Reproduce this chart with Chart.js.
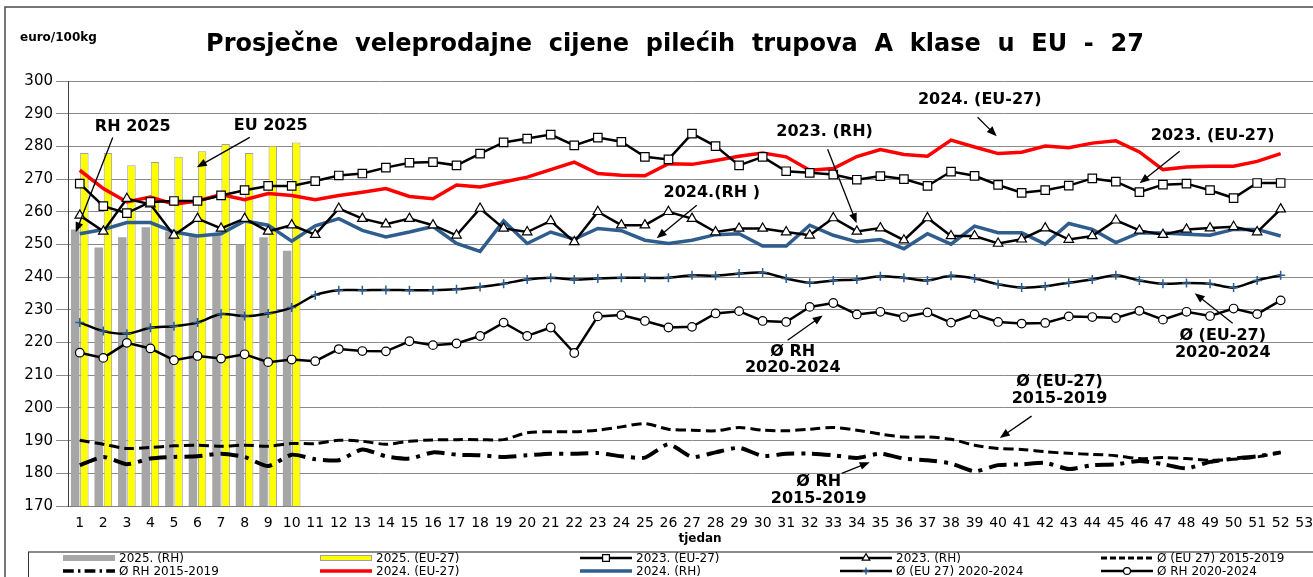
<!DOCTYPE html>
<html><head><meta charset="utf-8">
<script src="https://cdn.jsdelivr.net/npm/chart.js@4.4.1/dist/chart.umd.min.js"></script>
<style>
html,body{margin:0;padding:0;overflow:hidden;background:#fff}
#wrap{position:absolute;left:0;top:0;width:1330px;height:577px}
</style>
</head><body><div id="wrap"><canvas id="c"></canvas></div>
<script>
// ---- data ----
const weeks = ['1','2','3','4','5','6','7','8','9','10','11','12','13','14','15','16','17','18','19','20','21','22','23','24','25','26','27','28','29','30','31','32','33','34','35','36','37','38','39','40','41','42','43','44','45','46','47','48','49','50','51','52','53'];
const yTicks = [170,180,190,200,210,220,230,240,250,260,270,280,290,300];

const rh2025 = [254.6,249.1,252.2,255.3,254.0,253.0,253.5,250.0,252.2,248.1];
const eu2025 = [278.0,278.0,274.2,275.2,276.8,278.5,280.7,278.0,280.2,281.2];

const eu2023 = [268.6,261.7,259.6,263.0,263.3,263.3,265.0,266.6,267.9,267.9,269.4,271.1,271.7,273.5,275.0,275.2,274.2,277.8,281.2,282.4,283.6,280.3,282.7,281.4,276.8,276.0,283.9,280.1,274.2,276.8,272.4,271.9,271.4,269.8,270.9,270.0,267.9,272.3,271.0,268.2,265.8,266.6,268.0,270.2,269.2,266.0,268.3,268.6,266.6,264.2,268.8,268.8];
const rh2023 = [258.9,254.0,264.0,262.3,252.8,257.9,254.9,257.9,254.0,255.9,253.0,261.0,257.9,256.2,257.9,255.9,252.8,261.0,254.9,253.8,257.2,250.8,260.0,255.9,255.9,260.0,257.9,253.8,254.9,254.9,253.8,252.8,258.1,254.0,255.0,251.3,258.1,252.6,252.6,250.3,251.6,255.0,251.5,252.6,257.4,254.3,253.0,254.6,255.0,255.4,253.8,260.8];
const eu2024 = [272.7,267.1,263.0,264.5,262.3,263.3,265.3,263.7,265.6,265.0,263.7,265.0,266.0,267.1,264.7,264.0,268.2,267.6,269.1,270.6,272.9,275.2,271.7,271.2,271.0,274.7,274.5,275.7,277.0,278.0,276.8,272.7,273.2,276.9,279.0,277.5,277.0,281.9,279.8,277.8,278.2,280.1,279.6,281.0,281.7,278.3,272.9,273.7,273.9,273.9,275.4,277.8];
const rh2024 = [253.3,254.6,256.7,256.7,253.8,252.6,253.3,257.2,255.9,251.0,255.7,257.9,254.3,252.3,253.8,255.5,250.3,247.9,257.2,250.3,253.8,251.6,254.9,254.2,251.3,250.3,251.3,253.0,253.3,249.5,249.5,255.9,252.8,250.8,251.5,248.7,253.3,250.1,255.6,253.6,253.6,250.1,256.4,254.6,250.6,253.6,253.5,253.1,252.8,254.6,254.6,252.6];
const eu2020_24 = [226.1,223.5,222.7,224.5,225.0,226.1,228.7,228.1,228.9,230.7,234.5,236.0,236.0,236.1,236.0,236.0,236.3,237.0,238.0,239.3,239.8,239.3,239.6,239.8,239.8,239.8,240.6,240.4,241.1,241.4,239.6,238.3,239.0,239.3,240.3,239.8,239.0,240.4,239.6,237.8,236.8,237.2,238.3,239.3,240.6,239.0,238.0,238.2,238.0,236.8,239.0,240.6];
const rh2020_24 = [216.9,215.3,219.9,218.2,214.6,215.9,215.1,216.4,214.0,214.8,214.3,218.0,217.4,217.3,220.4,219.2,219.7,222.0,226.1,222.0,224.6,216.8,228.0,228.4,226.6,224.6,224.8,228.9,229.6,226.6,226.3,230.9,232.1,228.6,229.4,227.8,229.2,226.1,228.6,226.3,225.8,226.0,228.0,227.8,227.5,229.7,227.0,229.4,228.1,230.4,228.7,232.9];
const eu2015_19 = [190.1,188.9,187.6,187.9,188.4,188.6,188.3,188.6,188.3,189.1,189.1,190.1,189.8,188.9,189.8,190.2,190.3,190.3,190.3,192.4,192.7,192.7,193.2,194.2,195.2,193.5,193.2,193.0,194.0,193.2,193.0,193.5,194.0,193.2,192.0,191.1,191.1,190.4,188.6,187.6,187.3,186.6,186.1,185.8,185.4,184.5,184.8,184.5,184.0,184.3,185.0,186.4];
const rh2015_19 = [182.5,185.0,182.8,184.5,185.0,185.2,186.0,185.0,182.2,185.7,184.3,184.0,187.3,185.2,184.5,186.4,185.7,185.5,185.0,185.5,186.0,186.0,186.2,185.2,184.8,188.9,185.0,186.4,187.8,185.3,186.0,186.0,185.5,184.7,186.0,184.5,184.0,183.0,180.6,182.5,182.7,183.2,181.3,182.5,182.7,183.8,182.8,181.5,183.5,184.5,185.2,186.4];

const seriesNames = ['2025. (RH)','2025. (EU-27)','2023. (EU-27)','2023. (RH)','Ø (EU 27) 2015-2019','Ø RH 2015-2019','2024. (EU-27)','2024. (RH)','Ø (EU 27) 2020-2024','Ø RH 2020-2024'];

const titleText = 'Prosječne  veleprodajne  cijene  pilećih  trupova  A  klase  u  EU  -  27';
const unitText = 'euro/100kg';
const axisText = 'tjedan';

// annotations: text lines, anchor (week index, value), arrow from/to (week index, value)
const noteTexts = [['RH 2025'],['EU 2025'],['2024. (EU-27)'],['2023. (RH)'],['2023. (EU-27)'],['2024.(RH )'],['Ø RH','2020-2024'],['Ø (EU-27)','2020-2024'],['Ø (EU-27)','2015-2019'],['Ø RH','2015-2019']];
const noteAnchors = [[2.25,286.1],[8.11,286.4],[38.22,294.1],[31.63,284.3],[48.11,283.1],[26.84,265.8],[30.28,217.3],[48.54,221.9],[41.61,207.9],[31.38,177.3]];
const noteArrows = [[1.40,282.75,-0.17,253.7],[7.22,282.75,4.97,273.6],[38.13,288.9,38.94,283.1],[31.76,279.1,32.99,256.5],[46.71,278.5,45.01,268.7],[26.2,262.0,24.5,251.9],[30.06,220.7,31.55,228.3],[48.96,225.9,47.35,235.1],[40.42,197.5,39.07,190.8],[32.36,180.0,33.55,183.4]];

// ---- chart ----
const BLUE = '#2f5e8e';
const barOpts = {categoryPercentage:0.78, barPercentage:0.92, order:10};
const datasets = [
  Object.assign({type:'bar', label:seriesNames[0], data:rh2025, backgroundColor:'#a6a6a6', borderWidth:0}, barOpts),
  Object.assign({type:'bar', label:seriesNames[1], data:eu2025, backgroundColor:'#ffff00', borderColor:'#a0a0a0', borderWidth:1}, barOpts),
  {type:'line', label:seriesNames[2], data:eu2023, borderColor:'#000', borderWidth:2.5, pointStyle:'rect', pointRadius:6, pointBackgroundColor:'#fff', pointBorderColor:'#000', pointBorderWidth:1.2, tension:0, order:2},
  {type:'line', label:seriesNames[3], data:rh2023, borderColor:'#000', borderWidth:2.5, pointStyle:'triangle', pointRadius:5.5, pointBackgroundColor:'#fff', pointBorderColor:'#000', pointBorderWidth:1.2, tension:0, order:2},
  {type:'line', label:seriesNames[4], data:eu2015_19, borderColor:'#000', borderWidth:3, borderDash:[10,5], pointRadius:0, tension:0.3, order:4},
  {type:'line', label:seriesNames[5], data:rh2015_19, borderColor:'#000', borderWidth:4, borderDash:[18,7,4,7], pointRadius:0, tension:0.2, order:4},
  {type:'line', label:seriesNames[6], data:eu2024, borderColor:'#ff0000', borderWidth:3.5, pointRadius:0, tension:0, order:3},
  {type:'line', label:seriesNames[7], data:rh2024, borderColor:BLUE, borderWidth:3.5, pointRadius:0, tension:0, order:3},
  {type:'line', label:seriesNames[8], data:eu2020_24, borderColor:'#000', borderWidth:2.5, pointStyle:'cross', pointRadius:4.5, pointBorderColor:BLUE, pointBackgroundColor:BLUE, pointBorderWidth:1.5, tension:0.3, order:2},
  {type:'line', label:seriesNames[9], data:rh2020_24, borderColor:'#000', borderWidth:2.5, pointStyle:'circle', pointRadius:4.3, pointBackgroundColor:'#fff', pointBorderColor:'#000', pointBorderWidth:1.2, tension:0, order:2}
];

function arrow(c, x1, y1, x2, y2){
  const a = Math.atan2(y2-y1, x2-x1), L = 10, W = 4;
  c.beginPath(); c.moveTo(x1,y1); c.lineTo(x2 - Math.cos(a)*L*0.8, y2 - Math.sin(a)*L*0.8); c.stroke();
  c.beginPath(); c.moveTo(x2,y2);
  c.lineTo(x2 - Math.cos(a)*L + Math.sin(a)*W, y2 - Math.sin(a)*L - Math.cos(a)*W);
  c.lineTo(x2 - Math.cos(a)*L - Math.sin(a)*W, y2 - Math.sin(a)*L + Math.cos(a)*W);
  c.closePath(); c.fill();
}

const legendCols = [63, 320, 580, 840, 1101];
const legendRows = [558, 571];
const legendOrder = [[0,1,2,3,4],[5,6,7,8,9]];

function drawSample(c, ds, x, y, w){
  c.save();
  if (ds.type === 'bar'){
    c.fillStyle = ds.backgroundColor; c.fillRect(x, y-3, w, 6);
    if (ds.borderWidth){ c.strokeStyle = ds.borderColor; c.lineWidth = 1; c.strokeRect(x+0.5, y-2.5, w-1, 5); }
  } else {
    c.strokeStyle = ds.borderColor; c.lineWidth = Math.min(ds.borderWidth, 3.5);
    c.setLineDash(ds.borderDash ? ds.borderDash.map(v=>v*0.6) : []);
    c.beginPath(); c.moveTo(x, y); c.lineTo(x+w, y); c.stroke();
    c.setLineDash([]);
    if (ds.pointRadius > 0){
      c.fillStyle = ds.pointBackgroundColor; c.strokeStyle = ds.pointBorderColor; c.lineWidth = ds.pointBorderWidth;
      Chart.helpers.drawPoint(c, {pointStyle:ds.pointStyle, radius:ds.pointRadius*0.8, borderWidth:ds.pointBorderWidth, rotation:0}, x+w/2, y);
    }
  }
  c.restore();
}

const decor = {
  id:'decor',
  afterDatasetsDraw(chart){
    const c = chart.ctx, xs = chart.scales.x, ys = chart.scales.y;
    c.save();
    c.fillStyle = '#000'; c.strokeStyle = '#000'; c.lineWidth = 1.3;
    noteArrows.forEach(a => arrow(c, xs.getPixelForValue(a[0]), ys.getPixelForValue(a[1]), xs.getPixelForValue(a[2]), ys.getPixelForValue(a[3])));
    c.font = 'bold 16px "DejaVu Sans"'; c.textAlign = 'center'; c.textBaseline = 'middle';
    noteTexts.forEach((lines, i) => {
      const x = xs.getPixelForValue(noteAnchors[i][0]);
      const y = ys.getPixelForValue(noteAnchors[i][1]);
      lines.forEach((t, k) => c.fillText(t, x, y + k*16.5));
    });
    c.restore();
  },
  afterDraw(chart){
    const c = chart.ctx, W = chart.width, ca = chart.chartArea;
    c.save();
    // outer frame
    c.strokeStyle = '#4a4a4a'; c.lineWidth = 1.5;
    c.beginPath(); c.moveTo(W, 7); c.lineTo(5, 7); c.lineTo(5, 577); c.stroke();
    // title
    c.fillStyle = '#000'; c.textBaseline = 'middle';
    c.font = 'bold 24px "DejaVu Sans"'; c.textAlign = 'center';
    c.fillText(titleText, 675, 45);
    c.font = 'bold 12px "DejaVu Sans"'; c.textAlign = 'left';
    c.fillText(unitText, 20, 38);
    c.textAlign = 'center';
    c.fillText(axisText, (ca.left+ca.right)/2 + 8, 539);
    // legend frame
    c.strokeStyle = '#8a8a8a'; c.lineWidth = 2;
    c.beginPath(); c.moveTo(W, 552); c.lineTo(28, 552); c.stroke();
    c.strokeStyle = '#333'; c.lineWidth = 1;
    c.beginPath(); c.moveTo(28.5, 552); c.lineTo(28.5, 577); c.stroke();
    // legend items
    c.font = '12px "DejaVu Sans"'; c.textAlign = 'left'; c.fillStyle = '#000';
    legendOrder.forEach((row, r) => row.forEach((di, k) => {
      const ds = chart.data.datasets[di];
      const x = legendCols[k], y = legendRows[r];
      drawSample(c, ds, x, y, 52);
      c.fillStyle = '#000';
      c.fillText(ds.label, x + 56, y + 0.5);
    }));
    c.restore();
  }
};

new Chart(document.getElementById('c'), {
  type:'bar',
  data:{labels:weeks, datasets:datasets},
  options:{
    responsive:true, maintainAspectRatio:false, animation:false,
    layout:{padding:{left:0, right:14, top:81, bottom:0}},
    plugins:{legend:{display:false}, title:{display:false}, tooltip:{enabled:false}},
    scales:{
      x:{
        grid:{display:false, drawTicks:false},
        border:{display:true, color:'#808080', width:1},
        ticks:{autoSkip:false, maxRotation:0, minRotation:0, padding:9, color:'#000', font:{family:'DejaVu Sans', size:14}},
        afterFit(s){ s.height = 71; }
      },
      y:{
        min:yTicks[0], max:yTicks[yTicks.length-1],
        afterBuildTicks(s){ s.ticks = yTicks.map(v => ({value:v})); },
        ticks:{color:'#000', padding:3, font:{family:'DejaVu Sans', size:15}},
        grid:{color:'#8a8a8a', lineWidth:1, tickLength:12, drawTicks:true},
        border:{color:'#404040', width:1},
        afterFit(s){ s.width = 68; }
      }
    }
  },
  plugins:[decor]
});
</script>
</body></html>
